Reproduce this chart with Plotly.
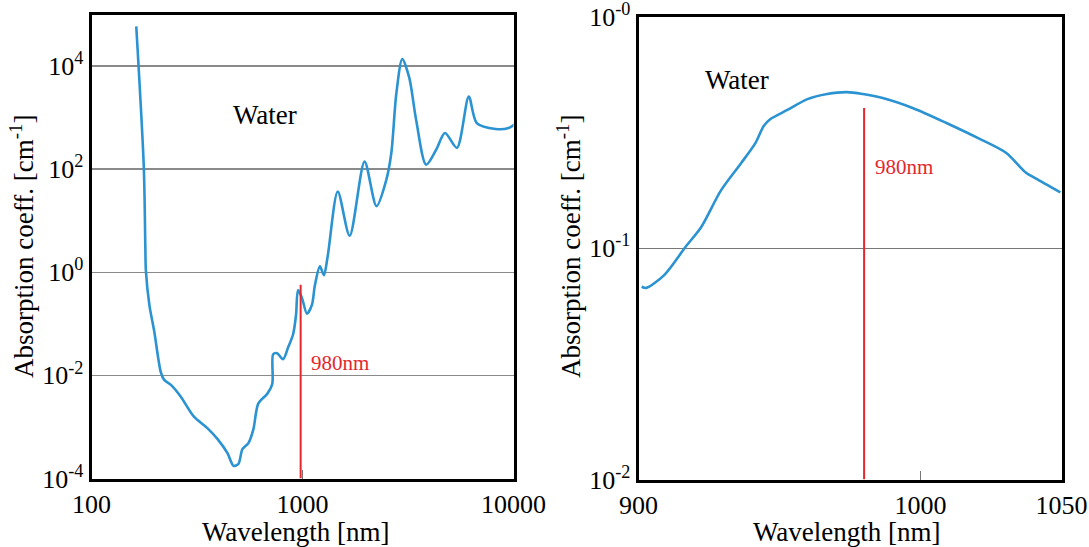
import plotly.graph_objects as go

# ---- data ----
wl_wide = [163, 177, 180, 181, 188, 198, 213, 221, 238, 265, 305, 355, 396, 441, 471,
           497, 519, 554, 585, 617, 681, 719, 726, 758, 809, 855, 902, 932, 952, 994,
           1050, 1108, 1145, 1209, 1263, 1318, 1469, 1673, 1968, 2242, 2498, 2637, 2784,
           2972, 3206, 3458, 3854, 4296, 4735, 5394, 6138, 6699, 8229, 9474, 10330]
abs_wide = [5.9e4, 107, 2.88, 1.09, 0.233, 0.074, 0.0116, 0.00817, 0.00655, 0.00386,
            0.0016, 9.4e-4, 5.8e-4, 3.1e-4, 1.76e-4, 1.92e-4, 3.7e-4, 4.85e-4, 9.0e-4,
            2.83e-3, 4.4e-3, 6.8e-3, 0.0257, 0.0269, 0.0206, 0.035, 0.062, 0.15, 0.45,
            0.318, 0.157, 0.233, 0.56, 1.3, 0.877, 2.12, 37, 5.1, 140, 19.2, 63, 208,
            2930, 13700, 5950, 891, 122, 237, 503, 259, 2570, 782, 600, 627, 782]

wl_zoom = [901.1, 902.8, 909.2, 916.9, 922.2, 929.2, 936.3, 941.5, 944.4, 946.8, 952.8,
           959.9, 966.9, 973.9, 979.6, 986.6, 997.2, 1009.2, 1020.8, 1030.3, 1037.3,
           1040.8, 1049.6]
abs_zoom = [0.068, 0.0673, 0.0766, 0.102, 0.123, 0.177, 0.232, 0.285, 0.337, 0.361, 0.395,
            0.44, 0.463, 0.472, 0.463, 0.445, 0.403, 0.347, 0.297, 0.258, 0.212, 0.2, 0.174]

marker_wl = [980, 980]
marker_wide = [0.574, 1e-4]
marker_zoom = [0.403, 0.01]

x_ticks_wide = [100, 1000, 10000]
x_ticktext_wide = ["100", "1000", "10000"]
y_ticks_wide = [1e-4, 1e-2, 1, 1e2, 1e4]
y_ticktext_wide = ["10<sup>-4</sup>", "10<sup>-2</sup>", "10<sup>0</sup>", "10<sup>2</sup>", "10<sup>4</sup>"]

x_ticks_zoom = [900, 1000, 1050]
x_ticktext_zoom = ["900", "1000", "1050"]
y_ticks_zoom = [0.01, 0.1, 1]
y_ticktext_zoom = ["10<sup>-2</sup>", "10<sup>-1</sup>", "10<sup>-0</sup>"]

# ---- styles ----
FONT = "Liberation Serif, Times New Roman, serif"
BLUE = "#2b93d1"
RED = "#e5262d"
W, H = 1089, 547


def px(x):
    return x / W


def py(y):
    return 1 - y / H


fig = go.Figure()
fig.add_trace(go.Scatter(x=wl_wide, y=abs_wide, mode="lines",
                         line=dict(color=BLUE, width=2.6, shape="spline", smoothing=0.8),
                         xaxis="x", yaxis="y", showlegend=False))
fig.add_trace(go.Scatter(x=marker_wl, y=marker_wide, mode="lines",
                         line=dict(color=RED, width=2), xaxis="x", yaxis="y", showlegend=False))
fig.add_trace(go.Scatter(x=wl_zoom, y=abs_zoom, mode="lines",
                         line=dict(color=BLUE, width=2.6, shape="spline", smoothing=0.8),
                         xaxis="x2", yaxis="y2", showlegend=False))
fig.add_trace(go.Scatter(x=marker_wl, y=marker_zoom, mode="lines",
                         line=dict(color=RED, width=2), xaxis="x2", yaxis="y2", showlegend=False))

frame = dict(showline=True, linecolor="black", linewidth=3, mirror=True, zeroline=False,
             automargin=False, ticklabeloverflow="allow")
tickfont = dict(family=FONT, size=26, color="black")

fig.update_layout(
    width=W, height=H,
    margin=dict(l=0, r=0, t=0, b=0, autoexpand=False),
    paper_bgcolor="white", plot_bgcolor="white",
    font=dict(family=FONT, color="black"),
    hovermode=False,
    xaxis=dict(domain=[px(91.5), px(513.5)], type="log", range=[2, 4], anchor="y",
               tickvals=x_ticks_wide, ticktext=x_ticktext_wide, ticks="inside", ticklen=9,
               tickcolor="#777777", tickwidth=1, showgrid=False, tickfont=tickfont, **frame),
    yaxis=dict(domain=[py(478.5), py(14.5)], type="log", range=[-4, 5], anchor="x",
               tickvals=y_ticks_wide, ticktext=y_ticktext_wide, ticks="",
               showgrid=True, gridcolor="#8a8a8a", gridwidth=1.5, tickfont=tickfont, **frame),
    xaxis2=dict(domain=[px(638.5), px(1061.5)], type="linear", range=[900, 1050], anchor="y2",
                tickvals=x_ticks_zoom, ticktext=x_ticktext_zoom, ticks="inside", ticklen=9,
                tickcolor="#777777", tickwidth=1, showgrid=False, tickfont=tickfont, **frame),
    yaxis2=dict(domain=[py(479.5), py(16.5)], type="log", range=[-2, 0.0005], anchor="x2",
                tickvals=y_ticks_zoom, ticktext=y_ticktext_zoom, ticks="",
                showgrid=True, gridcolor="#777777", gridwidth=1, tickfont=tickfont, **frame),
)

ann = [
    dict(text="Water", x=px(265), y=py(115), size=27, color="black", xa="center"),
    dict(text="980nm", x=px(309), y=py(363), size=21, color=RED, xa="left"),
    dict(text="Water", x=px(737), y=py(80), size=27, color="black", xa="center"),
    dict(text="980nm", x=px(873), y=py(167), size=21, color=RED, xa="left"),
    dict(text="Wavelength [nm]", x=px(296), y=py(532), size=27, color="black", xa="center"),
    dict(text="Wavelength [nm]", x=px(847), y=py(532), size=27, color="black", xa="center"),
]
for a in ann:
    fig.add_annotation(text=a["text"], x=a["x"], y=a["y"], xref="paper", yref="paper",
                       xanchor=a["xa"], yanchor="middle", showarrow=False,
                       font=dict(family=FONT, size=a["size"], color=a["color"]))

for xc in (22, 569):
    fig.add_annotation(text="Absorption coeff. [cm<sup>-1</sup>]", x=px(xc), y=py(247),
                       xref="paper", yref="paper", xanchor="center", yanchor="middle",
                       textangle=-90, showarrow=False,
                       font=dict(family=FONT, size=27, color="black"))

fig.write_html("out.html", config={"displayModeBar": False, "staticPlot": True},
               post_script="document.body.style.margin='0';document.body.style.overflow='hidden';")
